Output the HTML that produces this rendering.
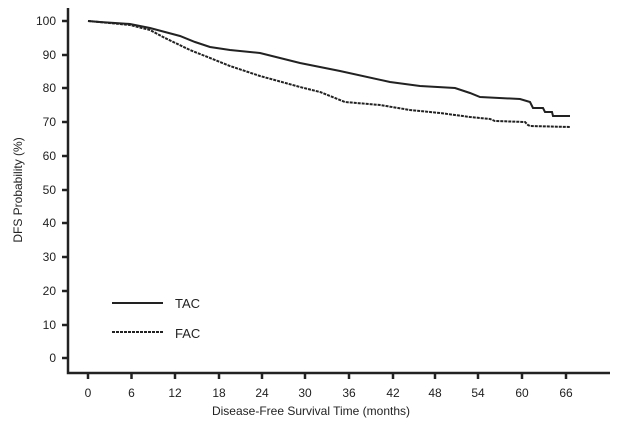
<!DOCTYPE html>
<html><head><style>body{margin:0;background:#fff}svg{display:block}text{font-family:"Liberation Sans",sans-serif;fill:#222}</style></head><body>
<svg width="624" height="439" viewBox="0 0 624 439">
<g stroke="#222" stroke-width="2.5" fill="none">
<path d="M68 8 V373 H610"/>
<path d="M62 21H68M62 55H68M62 88H68M62 122H68M62 156H68M62 190H68M62 223H68M62 257H68M62 291H68M62 325H68M62 358H68"/>
<path d="M88 373V379M131.5 373V379M175 373V379M219 373V379M262 373V379M305 373V379M349 373V379M393 373V379M435 373V379M478 373V379M522 373V379M566 373V379"/>
</g>
<g font-size="12" text-anchor="end">
<text x="56" y="25">100</text><text x="56" y="59">90</text><text x="56" y="92">80</text><text x="56" y="126">70</text><text x="56" y="160">60</text><text x="56" y="194">50</text><text x="56" y="227">40</text><text x="56" y="261">30</text><text x="56" y="295">20</text><text x="56" y="329">10</text><text x="56" y="362">0</text>
</g>
<g font-size="12" text-anchor="middle">
<text x="88" y="397">0</text><text x="131.5" y="397">6</text><text x="175" y="397">12</text><text x="219" y="397">18</text><text x="262" y="397">24</text><text x="305" y="397">30</text><text x="349" y="397">36</text><text x="393" y="397">42</text><text x="435" y="397">48</text><text x="478" y="397">54</text><text x="522" y="397">60</text><text x="566" y="397">66</text>
<text x="311" y="415">Disease-Free Survival Time (months)</text>
<text transform="translate(22,190) rotate(-90)">DFS Probability (%)</text>
</g>
<path d="M88 21 L100 22 L130 24 L150 28 L165 32 L180 36 L195 42 L210 47 L230 50 L260 53 L300 63 L340 71 L390 82 L420 86 L455 88 L470 93 L480 97 L520 99 L530 102 L533 108 L543 108 L545 112 L552 112 L553 116 L570 116" stroke="#222" stroke-width="2" fill="none"/>
<path d="M88 21 L130 25 L150 30 L165 38 L190 50 L230 66 L260 76 L300 87 L320 92 L345 102 L380 105 L410 110 L440 113 L470 117 L490 119 L495 121 L525 122 L528 125 L530 126 L570 127" stroke="#222" stroke-width="2" stroke-dasharray="3 1" fill="none"/>
<path d="M112 303H163" stroke="#222" stroke-width="2"/>
<path d="M112 332H163" stroke="#222" stroke-width="2" stroke-dasharray="3 1"/>
<text x="175" y="308" font-size="13">TAC</text>
<text x="175" y="338" font-size="13">FAC</text>
</svg>
</body></html>
